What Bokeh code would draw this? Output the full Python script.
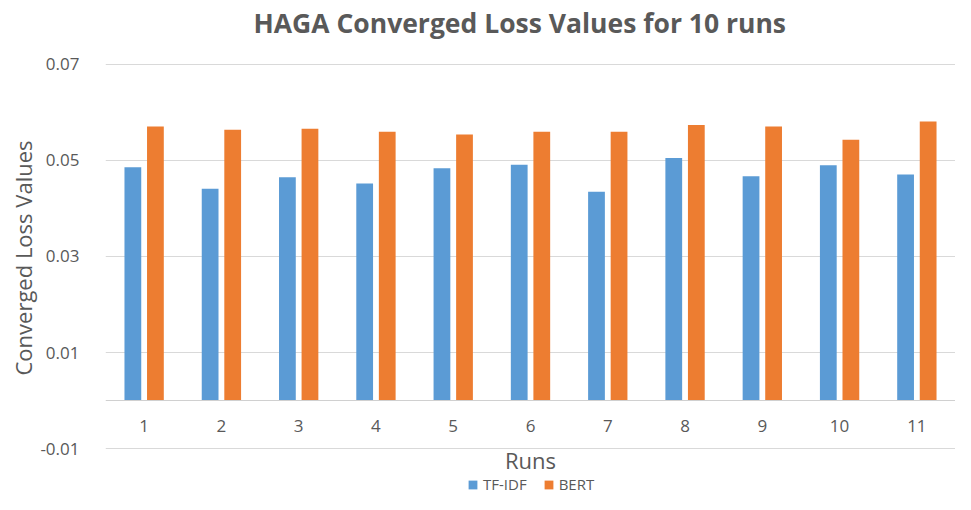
from bokeh.plotting import figure
from bokeh.models import (FactorRange, Range1d, FixedTicker, PrintfTickFormatter,
                          Legend, LegendItem, ColumnDataSource, Title)
from bokeh.transform import dodge
from bokeh.embed import file_html
from bokeh.resources import INLINE

runs = ["1", "2", "3", "4", "5", "6", "7", "8", "9", "10", "11"]
tfidf = [0.0486, 0.0441, 0.0465, 0.0452, 0.0484, 0.0491, 0.0435, 0.0505, 0.0467, 0.0490, 0.0471]
bert = [0.0571, 0.0564, 0.0566, 0.0560, 0.0554, 0.0560, 0.0560, 0.0574, 0.0571, 0.0543, 0.0581]
y_ticks = [-0.01, 0.01, 0.03, 0.05, 0.07]

FONT = "Open Sans"
GREY = "#595959"

src = ColumnDataSource(dict(run=runs, tfidf=tfidf, bert=bert))

# y range: a little empty room above 0.07 and below -0.01 (no gridlines there),
# so the title sits high and the legend can sit inside the frame at the bottom.
p = figure(width=955, height=494, x_range=FactorRange(factors=runs, range_padding=0),
           y_range=Range1d(-0.0195833, 0.0745833), output_backend="svg", toolbar_location=None,
           min_border_left=105, min_border_right=0, min_border_top=42, min_border_bottom=0)

p.title.text = "HAGA Converged Loss Values for 10 runs"
p.title.align = "left"
p.title.offset = 148
p.title.text_font = FONT
p.title.text_font_size = "26.5px"
p.title.text_font_style = "bold"
p.title.text_color = GREY
p.title.standoff = 4

r1 = p.vbar(x=dodge("run", -0.146, range=p.x_range), top="tfidf", width=0.217,
            source=src, fill_color="#5B9BD5", line_color=None)
r2 = p.vbar(x=dodge("run", 0.146, range=p.x_range), top="bert", width=0.217,
            source=src, fill_color="#ED7D31", line_color=None)

p.outline_line_color = None
p.xgrid.grid_line_color = None
p.ygrid.ticker = FixedTicker(ticks=y_ticks)
p.ygrid.grid_line_color = "#d9d9d9"

p.yaxis.ticker = FixedTicker(ticks=y_ticks)
p.yaxis.formatter = PrintfTickFormatter(format="%.2f")
p.yaxis.axis_line_color = None
p.yaxis.major_tick_line_color = None
p.yaxis.minor_tick_line_color = None
p.yaxis.major_label_standoff = 20
p.yaxis.major_label_text_font = FONT
p.yaxis.major_label_text_font_size = "17px"
p.yaxis.major_label_text_color = GREY

ylabel = Title(text="Converged Loss Values", align="left", offset=119,
               text_font=FONT, text_font_size="22px", text_font_style="normal",
               text_color=GREY, standoff=0)
p.add_layout(ylabel, "left")

p.xaxis.fixed_location = 0
p.xaxis.axis_line_color = "#d0d0d0"
p.xaxis.major_tick_line_color = None
p.xaxis.minor_tick_line_color = None
p.xaxis.major_label_standoff = 13
p.xaxis.major_label_text_font = FONT
p.xaxis.major_label_text_font_size = "17px"
p.xaxis.major_label_text_color = GREY
p.xaxis.axis_label = "Runs"
p.xaxis.axis_label_text_font = FONT
p.xaxis.axis_label_text_font_size = "22px"
p.xaxis.axis_label_text_font_style = "normal"
p.xaxis.axis_label_text_color = GREY
p.xaxis.axis_label_standoff = 10

legend = Legend(items=[LegendItem(label="TF-IDF", renderers=[r1]),
                       LegendItem(label="BERT", renderers=[r2])],
                orientation="horizontal", location=(362, 0),
                border_line_color=None, background_fill_alpha=0,
                label_text_font=FONT, label_text_font_size="15px", label_text_color=GREY,
                glyph_width=11, glyph_height=11, label_standoff=5, spacing=16,
                padding=0, margin=0)
p.add_layout(legend, "center")

open("out.html", "w").write(file_html(p, INLINE))
